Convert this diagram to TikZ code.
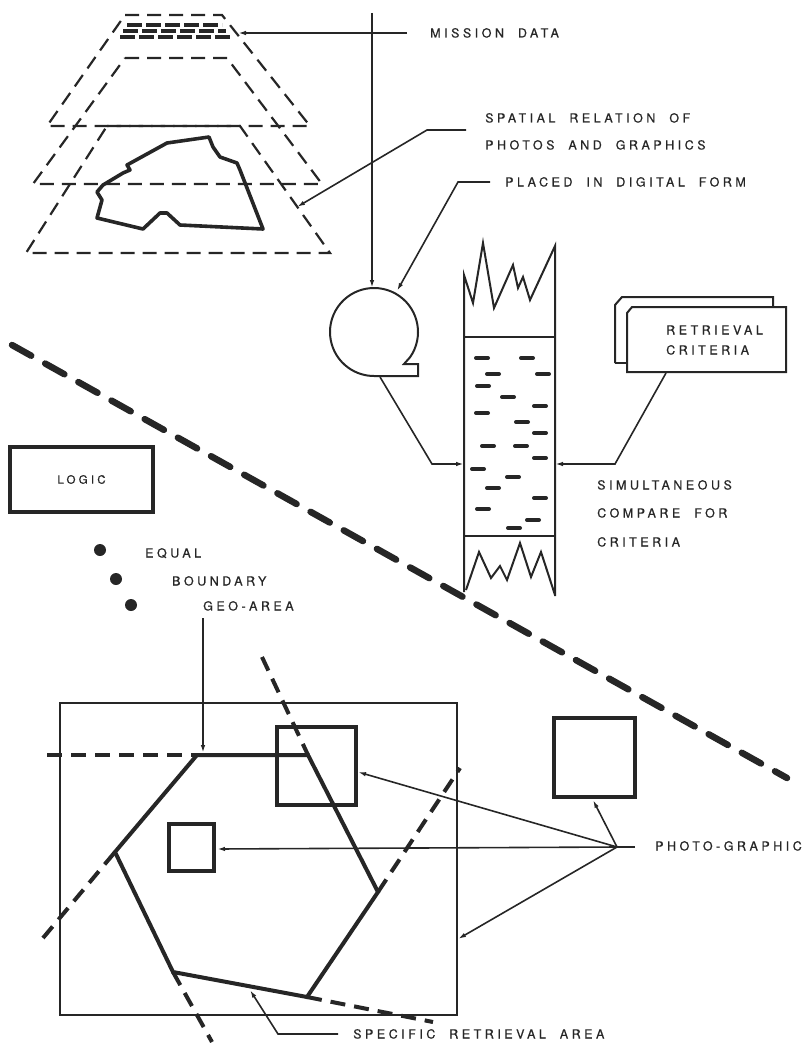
\documentclass[tikz,border=0pt]{standalone}
\usepackage{fontspec}
\newfontfamily\lab[LetterSpace=28,WordSpace=2,FakeBold=0.6]{TeX Gyre Heros}
\usetikzlibrary{arrows.meta}
\definecolor{ink}{RGB}{38,38,38}
\begin{document}
\begin{tikzpicture}[x=1pt,y=-1pt,
  thin/.style={draw=ink, line width=1.6pt},
  arr/.style={thin, -{Latex[length=8pt,width=4.5pt]}},
  layer/.style={draw=ink, line width=2.2pt, dash pattern=on 14pt off 8pt},
  heavy/.style={draw=ink, line width=4pt, line join=miter},
  mapline/.style={draw=ink, line width=3.6pt, line join=round},
  ext/.style={draw=ink, line width=4pt, dash pattern=on 15pt off 9pt},
  bigdash/.style={draw=ink, line width=6.5pt, line cap=round, dash pattern=on 22pt off 16pt},
  tapeline/.style={draw=ink, line width=2pt, line join=miter},
  bar/.style={draw=ink, line width=4pt, line cap=round},
  lbl/.style={font=\lab\fontsize{12.5}{14}\selectfont, text=ink, anchor=west, inner sep=0pt, text height=9pt, text depth=0pt}
]
\useasboundingbox (0,0) rectangle (806,1043);

% ---------- stacked layers ----------
\draw[layer] (125,15) -- (222,15) -- (310,126) -- (47,126) -- cycle;
\draw[layer] (125,58) -- (227,58) -- (322,184) -- (33,184) -- cycle;
\draw[layer] (107,126) -- (240,126) -- (330,253) -- (26,253) -- cycle;
% mission data records
\draw[draw=ink, line width=3.8pt, dash pattern=on 15pt off 4pt] (127,25) -- (222,25);
\draw[draw=ink, line width=3.8pt, dash pattern=on 15pt off 4pt] (123,31) -- (226,31);
\draw[draw=ink, line width=3.8pt, dash pattern=on 15pt off 4pt] (120,37) -- (230,37);
% map outline
\draw[mapline] (209,137) -- (167,143) -- (127,165) -- (130,170) -- (123,173) -- (103,185)
  -- (97,192) -- (102,200) -- (97,218) -- (143,229) -- (160,213) -- (167,213) -- (180,225)
  -- (263,229) -- (240,170) -- (237,163) -- (220,157) -- (213,147) -- cycle;

% ---------- top labels ----------
\node[lbl] (md) at (430,33) {MISSION DATA};
\node[lbl] (sp1) at (485,118) {SPATIAL RELATION OF};
\node[lbl] (sp2) at (485,145) {PHOTOS AND GRAPHICS};
\node[lbl] (pl) at (505,182) {PLACED IN DIGITAL FORM};

\coordinate (mdA) at (407,33);
\coordinate (mdT) at (238,33);
\draw[arr] (mdA) -- (mdT);

\coordinate (spA) at (466,130);
\coordinate (spB) at (427,130);
\coordinate (spT) at (297,207);
\draw[arr] (spA) -- (spB) -- (spT);

\coordinate (plA) at (490,182);
\coordinate (plB) at (458,182);
\coordinate (plT) at (397,291);
\draw[arr] (plA) -- (plB) -- (plT);

% ---------- reel ----------
\coordinate (reelc) at (374,332);
\draw[tapeline] (reelc) ++(35:44) arc[start angle=35, end angle=-270, radius=44]
  -- (418,376) -- (418,364) -- (404,364) -- cycle;
\coordinate (vtop) at (372,13);
\coordinate (vT) at (372,288);
\draw[arr] (vtop) -- (vT);

% ---------- tape ----------
\draw[tapeline] (464,592) -- (464,275) -- (473,303) -- (483,243) -- (494,308) -- (513,265)
  -- (518,288) -- (523,277) -- (530,300) -- (555,246) -- (555,596);
\draw[tapeline] (464,337) -- (555,337);
\draw[tapeline] (464,536) -- (555,536);
\draw[tapeline] (466,590) -- (479,552) -- (491,578) -- (500,566) -- (507,580) -- (520,543)
  -- (531,577) -- (541,552) -- (555,595);
\foreach \x/\y in {482/358, 527/358, 493/374, 543/374, 483/386, 508/397, 540/406, 482/413,
  522/422, 540/433, 488/446, 521/446, 540/458, 478/469, 513/477, 493/488, 540/498,
  483/509, 533/520, 514/528}
  \draw[bar] ({\x-6},\y) -- ({\x+6},\y);

\coordinate (reelOut) at (380,377);
\coordinate (rbend) at (432,464);
\coordinate (tapeL) at (464,464);
\draw[arr] (reelOut) -- (rbend) -- (tapeL);

% ---------- retrieval criteria ----------
\draw[tapeline] (615,363) -- (615,305) -- (622,297) -- (773,297) -- (773,307);
\draw[tapeline] (615,363) -- (627,363);
\draw[tapeline, fill=white] (627,313) -- (632,307) -- (786,307) -- (786,372) -- (627,372) -- cycle;
\node[lbl] (rc1) at (666,330) {RETRIEVAL};
\node[lbl] (rc2) at (666,350) {CRITERIA};
\coordinate (rcA) at (666,373);
\coordinate (rcB) at (615,464);
\coordinate (tapeR) at (555,464);
\draw[arr] (rcA) -- (rcB) -- (tapeR);

\node[lbl] (s1) at (597,485) {SIMULTANEOUS};
\node[lbl] (s2) at (597,513) {COMPARE FOR};
\node[lbl] (s3) at (597,542) {CRITERIA};

% ---------- big dashed separator ----------
\coordinate (sepA) at (12,345);
\coordinate (sepB) at (787,778);
\draw[bigdash] (sepA) -- (sepB);

% ---------- logic ----------
\node[draw=ink, line width=3.5pt, minimum width=143pt, minimum height=65pt,
  font=\lab\fontsize{11.5}{13}\selectfont, text=ink] (logic) at (81.5,479.5) {LOGIC};
\fill[ink] (100,550) circle[radius=6pt];
\fill[ink] (116,579) circle[radius=6pt];
\fill[ink] (131,605) circle[radius=6pt];
\node[lbl] (eq) at (145,553) {EQUAL};
\node[lbl] (bd) at (172,581) {BOUNDARY};
\node[lbl] (ga) at (203,606) {GEO-AREA};

% ---------- bottom map ----------
\draw[draw=ink, line width=1.8pt] (60,703) rectangle (457,1015);

\coordinate (H1) at (197,755);
\coordinate (H2) at (308,755);
\coordinate (H3) at (378,892);
\coordinate (H4) at (307,997);
\coordinate (H5) at (173,972);
\coordinate (H6) at (115,852);
\draw[heavy] (H1) -- (H2) -- (H3) -- (H4) -- (H5) -- (H6) -- cycle;

\draw[ext] (47,755) -- (H1);
\draw[ext] (262,657) -- (H2);
\draw[ext] (43,938) -- (H6);
\draw[ext] (H5) -- (212,1042);
\draw[ext] (H4) -- (433,1022);
\draw[ext] (H3) -- (460,768);

\draw[heavy] (277,727) rectangle (356,805);
\draw[heavy] (169,824) rectangle (214,871);
\draw[heavy] (554,718) rectangle (635,797);

\coordinate (gaA) at (203,618);
\coordinate (gaT) at (203,753);
\draw[arr] (gaA) -- (gaT);

% photo-graphic
\node[lbl] (pg) at (655,846) {PHOTO-GRAPHIC};
\coordinate (hub) at (617,847);
\coordinate (hubR) at (635,847);
\draw[thin] (hubR) -- (hub);
\coordinate (tC) at (593,800);
\coordinate (tA) at (358,772);
\coordinate (tB) at (217,849);
\coordinate (tR) at (458,939);
\draw[arr] (hub) -- (tC);
\draw[arr] (hub) -- (tA);
\draw[arr] (hub) -- (tB);
\draw[arr] (hub) -- (tR);

% specific retrieval area
\node[lbl] (sra) at (353,1034) {SPECIFIC RETRIEVAL AREA};
\coordinate (srA) at (338,1034);
\coordinate (srB) at (278,1034);
\coordinate (srT) at (250,990);
\draw[arr] (srA) -- (srB) -- (srT);
\end{tikzpicture}
\end{document}
